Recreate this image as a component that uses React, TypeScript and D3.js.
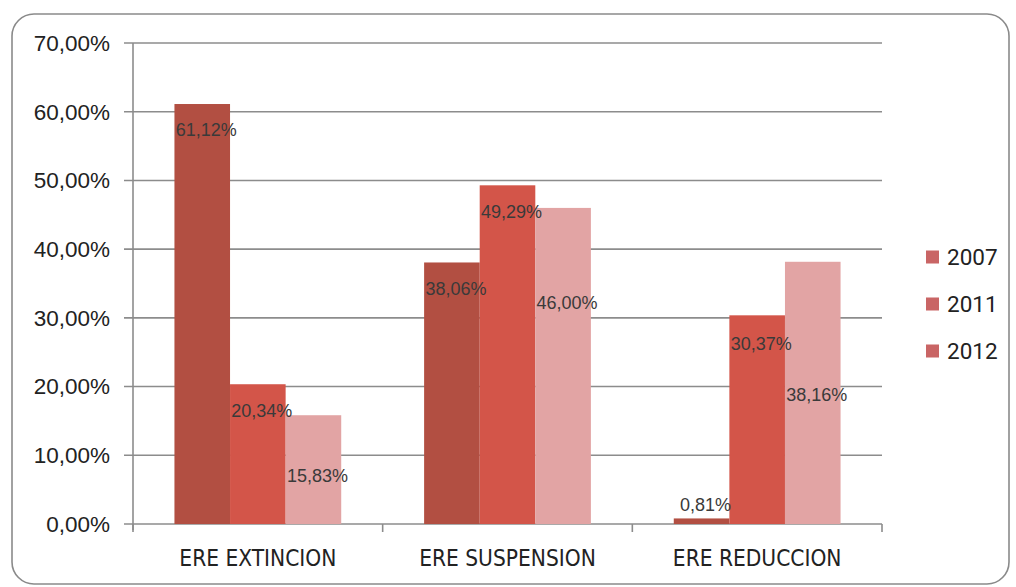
import React from "react";
import * as d3 from "d3";

const categories = ["ERE EXTINCION", "ERE SUSPENSION", "ERE REDUCCION"];
const seriesNames = ["2007", "2011", "2012"];
const values2007 = [61.12, 38.06, 0.81];
const values2011 = [20.34, 49.29, 30.37];
const values2012 = [15.83, 46.0, 38.16];
const yTicks = [0, 10, 20, 30, 40, 50, 60, 70];

const seriesValues = [values2007, values2011, values2012];
const barColors = ["#b24f42", "#d35549", "#e2a4a4"];
const legendColor = "#c96565";
// label offsets (px below bar top) per series/category, as seen in the reference
const labelOffsets = [
  [26, 26, -14],
  [26, 26, 28],
  [60, 95, 133],
];

export default function App() {
  const W = 1016, H = 587;
  const left = 133, right = 882, top = 43, bottom = 524;
  const y = d3.scaleLinear().domain([0, 70]).range([bottom, top]);
  const x0 = d3.scaleBand().domain(categories).range([left, right]).paddingInner(0.332).paddingOuter(0.166);
  const x1 = d3.scaleBand().domain(seriesNames).range([0, x0.bandwidth()]).padding(0);
  const fmt = (v: number) => v.toFixed(2).replace(".", ",") + "%";
  const bandEdges = [left, ...categories.map((_, i) => left + ((right - left) * (i + 1)) / categories.length)];

  return (
    <svg width={W} height={H} style={{ position: "absolute", left: 0, top: 0, background: "#fff" }}>
      <rect x={12} y={14} width={997} height={570} rx={22} ry={22} fill="#fff" stroke="#8a8a8a" strokeWidth={1.6} />
      {yTicks.map((t) => (
        <g key={t}>
          <line x1={124} x2={right} y1={y(t)} y2={y(t)} stroke="#8c8c8c" strokeWidth={1.6} />
          <text x={110} y={y(t)} dy="0.35em" textAnchor="end" fontFamily="Liberation Sans, Arial, sans-serif" fontSize={22.5} fill="#222">
            {t.toFixed(2).replace(".", ",") + "%"}
          </text>
        </g>
      ))}
      <line x1={left} x2={left} y1={top} y2={bottom + 6} stroke="#8c8c8c" strokeWidth={1.6} />
      {bandEdges.map((e, i) => (
        <line key={i} x1={e} x2={e} y1={bottom} y2={bottom + 8} stroke="#8c8c8c" strokeWidth={1.6} />
      ))}
      {seriesValues.map((vals, s) =>
        vals.map((v, c) => {
          const bx = (x0(categories[c]) as number) + (x1(seriesNames[s]) as number);
          return (
            <rect key={`${s}-${c}`} x={bx} y={y(v)} width={x1.bandwidth()} height={bottom - y(v)} fill={barColors[s]} />
          );
        })
      )}
      {seriesValues.map((vals, s) =>
        vals.map((v, c) => {
          const bx = (x0(categories[c]) as number) + (x1(seriesNames[s]) as number) + x1.bandwidth() / 2;
          return (
            <text key={`l${s}-${c}`} x={bx + 4} y={y(v) + labelOffsets[s][c]} dy="0.35em" textAnchor="middle"
              fontFamily="Liberation Sans, Arial, sans-serif" fontSize={18} fill="#3a3a3a">
              {fmt(v)}
            </text>
          );
        })
      )}
      {categories.map((c) => (
        <text key={c} x={(x0(c) as number) + x0.bandwidth() / 2} y={558} dy="0.35em" textAnchor="middle"
          fontFamily="Liberation Sans Narrow, DejaVu Sans Condensed, sans-serif" fontSize={22.5} fill="#222">
          {c}
        </text>
      ))}
      {seriesNames.map((n, i) => (
        <g key={n} transform={`translate(926, ${257 + i * 47})`}>
          <rect x={0} y={-6.5} width={13} height={13} fill={legendColor} />
          <text x={21} y={0} dy="0.35em" fontFamily="Roboto, Liberation Sans, sans-serif" fontSize={22.5} fill="#222">
            {n}
          </text>
        </g>
      ))}
    </svg>
  );
}
